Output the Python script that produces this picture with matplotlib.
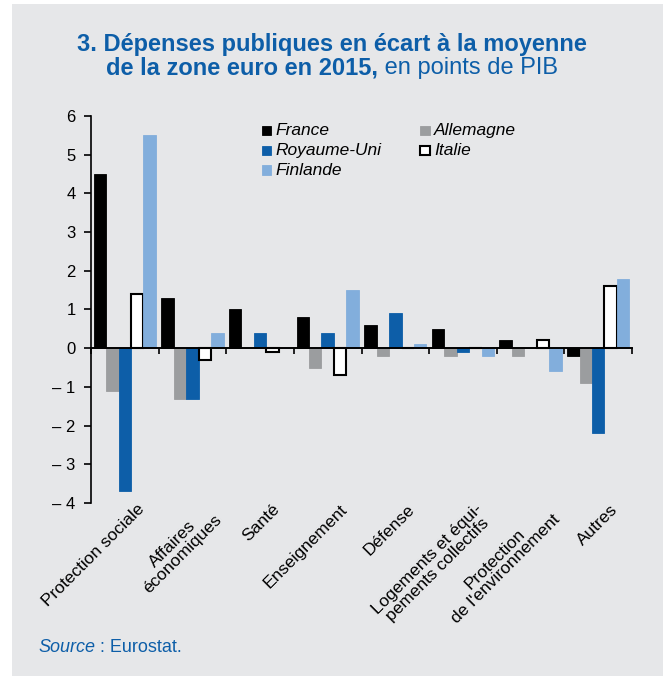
import numpy as np
import matplotlib
matplotlib.use("Agg")
import matplotlib.pyplot as plt
from matplotlib.patches import Rectangle

plt.rcParams['font.family'] = ['Liberation Sans', 'DejaVu Sans']

categories = ["Protection sociale", "Affaires\néconomiques", "Santé", "Enseignement",
              "Défense", "Logements et équi-\npements collectifs",
              "Protection\nde l'environnement", "Autres"]
countries = ["France", "Allemagne", "Royaume-Uni", "Italie", "Finlande"]
france = [4.5, 1.3, 1.0, 0.8, 0.6, 0.5, 0.2, -0.2]
allemagne = [-1.1, -1.3, 0.0, -0.5, -0.2, -0.2, -0.2, -0.9]
royaume_uni = [-3.7, -1.3, 0.4, 0.4, 0.9, -0.1, 0.0, -2.2]
italie = [1.4, -0.3, -0.1, -0.7, 0.0, 0.0, 0.2, 1.6]
finlande = [5.5, 0.4, 0.0, 1.5, 0.1, -0.2, -0.6, 1.8]
yticks = [6, 5, 4, 3, 2, 1, 0, -1, -2, -3, -4]
ytick_labels = ["6", "5", "4", "3", "2", "1", "0", "– 1", "– 2", "– 3", "– 4"]

series = [france, allemagne, royaume_uni, italie, finlande]
fills = ["#000000", "#9b9d9f", "#0d5ea8", "#ffffff", "#82aedc"]
edges = ["#000000", "#9b9d9f", "#0d5ea8", "#000000", "#82aedc"]
blue = "#0d5ea8"
panel = "#e6e7e9"

fig = plt.figure(figsize=(6.63, 6.76), dpi=100)
fig.patches.append(Rectangle((12 / 663, 0), 1, 1 - 4 / 676, transform=fig.transFigure,
                             facecolor=panel, edgecolor="none", zorder=-1))

ax = fig.add_axes([91 / 663, 1 - 503 / 676, (632 - 91) / 663, (503 - 116) / 676])
ax.set_facecolor(panel)

x = np.arange(len(categories))
w = 0.184
bars = []
for i, (vals, fc, ec) in enumerate(zip(series, fills, edges)):
    lw = 1.5 if fc == "#ffffff" else 0.6
    b = ax.bar(x + (i - 2) * w, vals, w, color=fc, edgecolor=ec, linewidth=lw,
               label=countries[i], zorder=2)
    bars.append(b)

ax.set_xlim(-0.5, len(categories) - 0.5)
ax.set_ylim(-4, 6)
ax.set_yticks(yticks)
ax.set_yticklabels(ytick_labels, fontsize=12)
ax.tick_params(axis="y", direction="out", length=5, width=1.2, pad=6, colors="#000000")

for s in ["top", "right"]:
    ax.spines[s].set_visible(False)
ax.spines["left"].set_linewidth(1.2)
ax.spines["bottom"].set_position(("data", 0))
ax.spines["bottom"].set_linewidth(1.4)
ax.spines["bottom"].set_zorder(3)

ax.set_xticks(np.arange(len(categories) + 1) - 0.5)
ax.set_xticklabels([])
ax.tick_params(axis="x", direction="out", length=4, width=1.2)

for xi, lab in zip(x, categories):
    ax.annotate(lab, xy=(xi + 0.17, -4), xycoords="data", xytext=(0, 1),
                textcoords="offset points", rotation=45, ha="right", va="top",
                rotation_mode="anchor", fontsize=12.5, multialignment="center",
                linespacing=0.95)

order = [0, 2, 4, 1, 3]
leg = ax.legend([bars[k] for k in order], [countries[k] for k in order], ncol=2,
                loc="upper left", bbox_to_anchor=(0.305, 0.995), frameon=False,
                handlelength=0.7, handleheight=0.7, handletextpad=0.3,
                columnspacing=2.8, labelspacing=0.35, borderaxespad=0)
for t in leg.get_texts():
    t.set_fontstyle("italic")
    t.set_fontsize(12.5)

renderer = fig.canvas.get_renderer()
fig.text(0.5, 1 - 45 / 676, "3. Dépenses publiques en écart à la moyenne", ha="center",
         va="center", fontsize=17, fontweight="bold", color=blue)
a = fig.text(0, 1 - 68 / 676, "de la zone euro en 2015,", fontsize=17, fontweight="bold",
             color=blue, va="center")
b = fig.text(0, 1 - 68 / 676, " en points de PIB", fontsize=17, color=blue, va="center")
wa = a.get_window_extent(renderer).width
wb = b.get_window_extent(renderer).width
x0 = (663 - wa - wb) / 2
a.set_x(x0 / 663)
b.set_x((x0 + wa) / 663)

s1 = fig.text(38 / 663, 1 - 647 / 676, "Source", fontsize=13, style="italic", color=blue,
              va="center")
ws = s1.get_window_extent(renderer).width
fig.text((38 + ws) / 663, 1 - 647 / 676, " : Eurostat.", fontsize=13, color=blue, va="center")

fig.savefig("out.png", dpi=100, facecolor="white")
